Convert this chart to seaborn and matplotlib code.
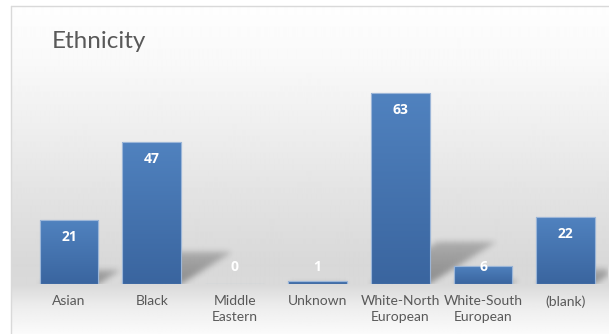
import numpy as np
import matplotlib
matplotlib.use("Agg")
import matplotlib.pyplot as plt
from matplotlib.colors import LinearSegmentedColormap
from matplotlib.patches import Rectangle
import seaborn as sns

# Chart data
categories = ["Asian", "Black", "Middle\nEastern", "Unknown",
              "White-North\nEuropean", "White-South\nEuropean", "(blank)"]
counts = [21, 47, 0, 1, 63, 6, 22]
title = "Ethnicity"

sns.set_theme(style="white")
plt.rcParams["font.family"] = ["Lato", "DejaVu Sans"]

W, H, DPI = 609, 334, 100
fig = plt.figure(figsize=(W / DPI, H / DPI), dpi=DPI)
fig.patch.set_facecolor("white")

# --- chart-area background: vertical grey gradient inside a thin frame ---
frame_x, frame_y = 10.5, 5.5          # px from left / top
bg = fig.add_axes([frame_x / W, 0, 1 - frame_x / W, (H - frame_y) / H])
bg.set_axis_off()
rows = np.arange(int(frame_y), H)
stops_y = [5, 60, 130, 200, 265, 285, 305, 334]
stops_v = [254, 249, 238, 226, 216, 218, 236, 251]
vals = np.interp(rows, stops_y, stops_v) / 255.0
grad = np.repeat(vals[:, None], 2, axis=1)
bg.imshow(grad, cmap="gray", vmin=0, vmax=1, aspect="auto",
          extent=[0, 1, 0, 1], origin="upper", interpolation="bilinear")
bg.set_xlim(0, 1)
bg.set_ylim(0, 1)
fig.add_artist(plt.Line2D([frame_x / W, 1], [1 - frame_y / H] * 2,
                          color="#d9d9d9", lw=1.0, transform=fig.transFigure))
fig.add_artist(plt.Line2D([frame_x / W] * 2, [0, 1 - frame_y / H],
                          color="#d9d9d9", lw=1.0, transform=fig.transFigure))

# --- plot area ---
base_px = 284          # baseline, px from top
left_px = 27.6
cat_px = 82.8
ymax = 70
px_per_unit = 3.03
ax = fig.add_axes([left_px / W, (H - base_px) / H,
                   cat_px * len(categories) / W, ymax * px_per_unit / H])
ax.patch.set_alpha(0)

sns.barplot(x=categories, y=counts, ax=ax, width=0.71, color="#4a7ab5",
            edgecolor="#9cb6d8", linewidth=0.8, zorder=3)
ax.set_xlim(-0.5, len(categories) - 0.5)
ax.set_ylim(0, ymax)

# gradient fill on each bar
bar_cmap = LinearSegmentedColormap.from_list("barfill", ["#3a659f", "#5082bf"])
g = np.linspace(0, 1, 100)[:, None]
for patch in ax.patches:
    x0, y0 = patch.get_x(), patch.get_y()
    w, h = patch.get_width(), patch.get_height()
    if h <= 0:
        continue
    im = ax.imshow(g, cmap=bar_cmap, aspect="auto", origin="lower",
                   extent=[x0, x0 + w, y0, y0 + h], zorder=3.5,
                   interpolation="bilinear")
    im.set_clip_path(patch)
    ax.add_patch(Rectangle((x0, y0), w, h, fill=False, edgecolor="#9cb6d8",
                           lw=0.8, zorder=3.6))

# soft perspective shadows cast to the upper right of each bar
nx = int(round(cat_px * len(categories)))
ny = int(round(ymax * px_per_unit))
xs = np.linspace(-0.5, len(categories) - 0.5, nx)
ys = np.linspace(0, ymax, ny)
XX, YY = np.meshgrid(xs, ys)
shadow = np.zeros_like(XX)
for i, v in enumerate(counts):
    if v <= 0:
        continue
    hw = 0.71 / 2
    sh = 0.22 * v                        # shadow height (data units)
    dx = 0.35 * v * px_per_unit / cat_px  # horizontal shear (category units)
    t = YY / sh
    inside = (t >= 0) & (t <= 1) & (XX >= i - hw + t * dx) & (XX <= i + hw + t * dx)
    shadow = np.maximum(shadow, np.where(inside, 1.0 - 0.4 * t, 0.0))


def blur(a, sigma):
    r = int(3 * sigma)
    k = np.exp(-0.5 * (np.arange(-r, r + 1) / sigma) ** 2)
    k /= k.sum()
    a = np.apply_along_axis(lambda m: np.convolve(m, k, mode="same"), 0, a)
    a = np.apply_along_axis(lambda m: np.convolve(m, k, mode="same"), 1, a)
    return a


shadow = blur(shadow, 3.0)
rgba = np.zeros((ny, nx, 4))
rgba[..., 3] = np.clip(shadow, 0, 1) * 0.36
ax.imshow(rgba, origin="lower", aspect="auto",
          extent=[-0.5, len(categories) - 0.5, 0, ymax], zorder=2,
          interpolation="bilinear")

# value labels
for i, v in enumerate(counts):
    ax.text(i, max(v - 5.6, 5.6), str(v), ha="center", va="center",
            color="white", fontsize=10, fontweight="bold", zorder=5,
            family=["Open Sans", "DejaVu Sans"])

ax.tick_params(axis="x", length=0, pad=8, labelsize=10, labelcolor="#595959")
for lbl in ax.get_xticklabels():
    lbl.set_linespacing(1.4)
ax.set_yticks([])
ax.set_xlabel("")
ax.set_ylabel("")
for s in ax.spines.values():
    s.set_visible(False)

fig.text(52 / W, 1 - 41 / H, title, fontsize=17.5, color="#595959",
         ha="left", va="center")

fig.savefig("out.png", dpi=DPI)
